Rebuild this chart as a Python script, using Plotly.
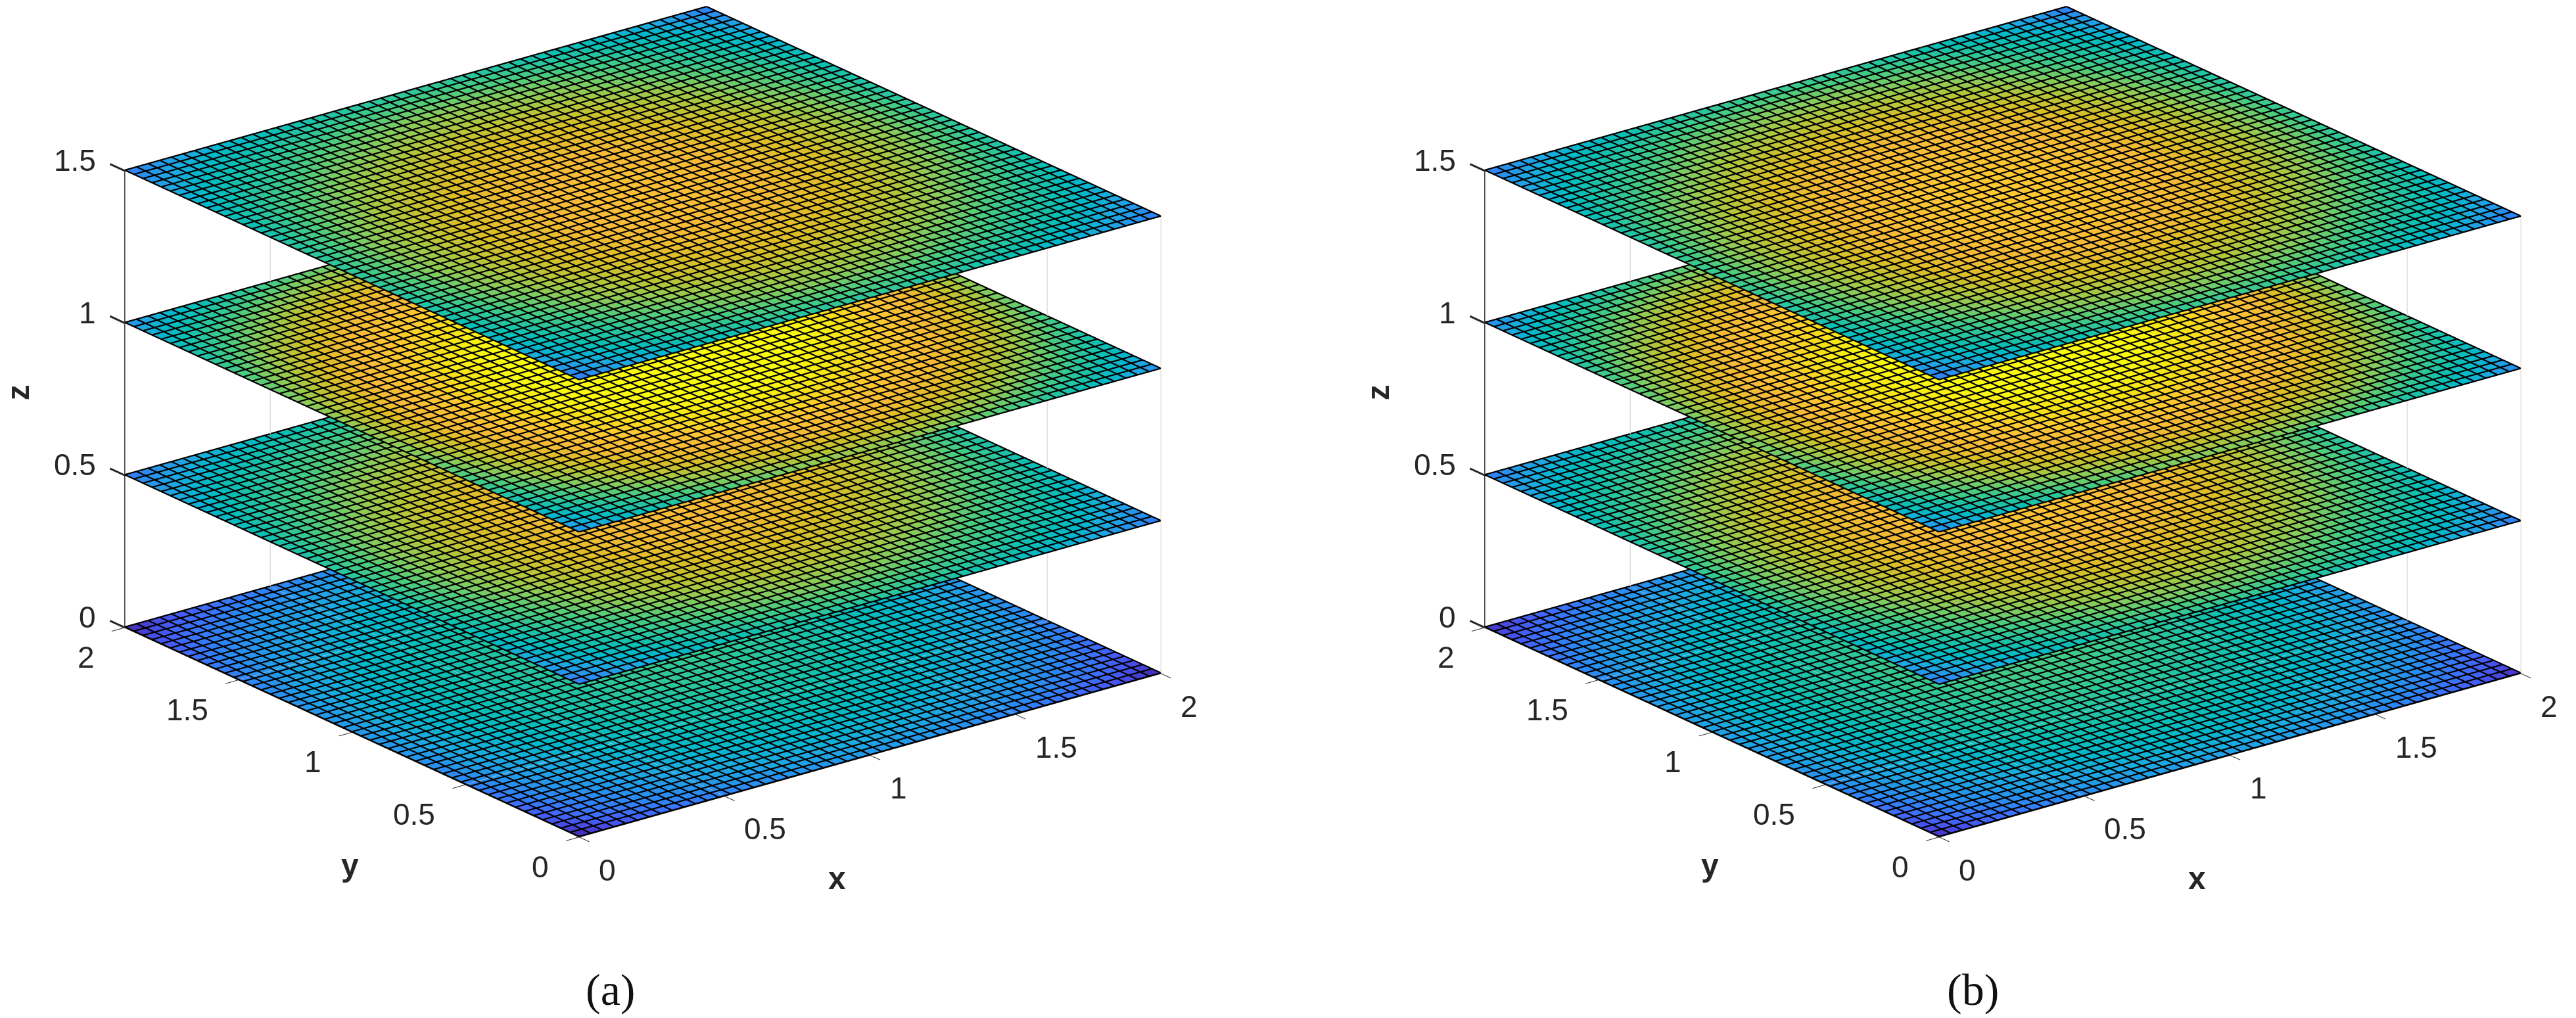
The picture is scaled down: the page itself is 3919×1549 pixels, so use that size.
import plotly.graph_objects as go

# ---- data ----
grid_x = [round(i * 0.04, 2) for i in range(51)]
grid_y = [round(i * 0.04, 2) for i in range(51)]
levels = [0.0, 0.5, 1.0, 1.5]
ticks_xy = [0, 0.5, 1, 1.5, 2]
ticks_z = [0, 0.5, 1, 1.5]
tick_text_xy = ["0", "0.5", "1", "1.5", "2"]
tick_text_z = ["0", "0.5", "1", "1.5"]

# colour value along a sheet edge, corner to edge middle (mirrored about the middle)
a_z00 = [.02,.05,.08,.10,.12,.13,.15,.16,.18,.19,.20,.21,.22,.23,.24,.25,.26,.26,.27,.28,.28,.28,.29,.29,.29,.29]
a_z05 = [.19,.23,.26,.28,.31,.33,.35,.36,.38,.40,.41,.43,.44,.45,.46,.47,.48,.49,.50,.50,.51,.51,.52,.52,.52,.52]
a_z10 = [.26,.31,.34,.37,.40,.43,.45,.47,.49,.51,.53,.55,.56,.58,.59,.60,.61,.62,.63,.64,.65,.65,.65,.66,.66,.66]
a_z15 = [.20,.24,.27,.29,.32,.34,.36,.37,.39,.41,.42,.44,.45,.46,.47,.48,.49,.50,.51,.51,.52,.52,.53,.53,.53,.53]
b_z00 = [.03,.07,.09,.11,.13,.15,.16,.18,.19,.21,.22,.23,.24,.25,.26,.27,.28,.28,.29,.30,.30,.30,.31,.31,.31,.31]
b_z05 = [.20,.24,.27,.30,.32,.34,.36,.38,.40,.41,.43,.44,.46,.47,.48,.49,.50,.51,.52,.52,.53,.53,.54,.54,.54,.54]
b_z10 = [.24,.29,.32,.35,.38,.41,.43,.45,.47,.49,.51,.53,.54,.56,.57,.58,.59,.60,.61,.62,.63,.63,.63,.64,.64,.64]
b_z15 = [.20,.24,.27,.30,.32,.34,.37,.38,.40,.42,.43,.45,.46,.48,.49,.50,.51,.52,.52,.53,.54,.54,.55,.55,.55,.55]

parula = [
    [0.00, "#3e2698"], [0.06, "#4636c6"], [0.12, "#4754f0"], [0.18, "#3d70fd"],
    [0.24, "#2e85f6"], [0.30, "#2499ea"], [0.36, "#1cabe0"], [0.42, "#03b8ca"],
    [0.48, "#0cbfb4"], [0.54, "#2bc69d"], [0.60, "#4acc7f"], [0.66, "#82cc5e"],
    [0.72, "#b4c63a"], [0.78, "#dcbe27"], [0.84, "#f7ba37"], [0.90, "#fec832"],
    [0.95, "#f6e018"], [1.00, "#f9fa0e"],
]

INK = "#262626"
GRID = "#dedede"
TICK_FONT = dict(family="Liberation Sans", size=46, color=INK)
TITLE_FONT = dict(family="Liberation Sans", size=48, color=INK)
CAP_FONT = dict(family="Liberation Serif", size=68, color="#111111")


def add_sheet(fig, scene, level, edge):
    full = edge + edge[-2::-1]
    n = len(grid_x)
    vx, vy, vz, tri_i, tri_j, tri_k, cell = [], [], [], [], [], [], []
    for row, yv in enumerate(grid_y):
        for col, xv in enumerate(grid_x):
            vx.append(xv); vy.append(yv); vz.append(level)
    for row in range(n - 1):
        for col in range(n - 1):
            p = row * n + col
            tri_i += [p, p]; tri_j += [p + 1, p + n + 1]; tri_k += [p + n + 1, p + n]
            val = (full[row] + full[col] + full[row + 1] + full[col + 1]) / 2 - edge[0]
            cell += [val, val]
    fig.add_trace(go.Mesh3d(
        x=vx, y=vy, z=vz, i=tri_i, j=tri_j, k=tri_k,
        intensity=cell, intensitymode="cell", colorscale=parula, cmin=0, cmax=1,
        showscale=False, hoverinfo="skip", scene=scene, flatshading=True,
        lighting=dict(ambient=1, diffuse=0, specular=0, roughness=1, fresnel=0),
    ))
    xs, ys, zs = [], [], []
    lift = level + 0.002
    for v in grid_x:
        xs += [v, v, None]; ys += [grid_y[0], grid_y[-1], None]; zs += [lift, lift, None]
    for v in grid_y:
        xs += [grid_x[0], grid_x[-1], None]; ys += [v, v, None]; zs += [lift, lift, None]
    fig.add_trace(go.Scatter3d(x=xs, y=ys, z=zs, mode="lines",
                               line=dict(color="#000000", width=4.5),
                               hoverinfo="skip", showlegend=False, scene=scene))


def axis(vals, text, rng, ticks="outside"):
    return dict(range=rng, tickmode="array", tickvals=vals, ticktext=text,
                showticklabels=False, ticks=ticks, ticklen=25, tickwidth=3,
                tickcolor=INK, showgrid=True, gridcolor=GRID, gridwidth=3,
                showline=True, linecolor=INK, linewidth=3, zeroline=False,
                showbackground=False, showspikes=False, title=dict(text=""))


def scene_annotations():
    notes = []
    for v, t in zip(ticks_xy, tick_text_xy):
        notes.append(dict(x=v, y=0, z=0, text=t, showarrow=False, xanchor="left", yanchor="middle",
                          xshift=28, yshift=-50, font=TICK_FONT))
        notes.append(dict(x=0, y=v, z=0, text=t, showarrow=False, xanchor="right", yanchor="middle",
                          xshift=-44, yshift=-45, font=TICK_FONT))
    for v, t in zip(ticks_z, tick_text_z):
        notes.append(dict(x=0, y=2, z=v, text=t, showarrow=False, xanchor="right", yanchor="middle",
                          xshift=-42, yshift=16, font=TICK_FONT))
        notes.append(dict(x=0, y=2, z=v, text=" ", showarrow=True, arrowhead=0, arrowwidth=3,
                          arrowcolor=INK, ax=-24, ay=-11, standoff=0, startstandoff=0,
                          font=dict(size=1)))
    bold = dict(TITLE_FONT)
    notes.append(dict(x=1, y=0, z=0, text="<b>x</b>", showarrow=False, xshift=-50, yshift=-187, font=bold))
    notes.append(dict(x=0, y=1, z=0, text="<b>y</b>", showarrow=False, xshift=-3, yshift=-202, font=bold))
    notes.append(dict(x=0, y=2, z=0.75, text="<b>z</b>", showarrow=False, xshift=-162, yshift=10,
                      textangle=-90, font=bold))
    return notes


D = 3.0
CZ = -0.195


def scene_layout(dom_x):
    return dict(
        domain=dict(x=dom_x, y=[0, 1]),
        xaxis=axis(ticks_xy, tick_text_xy, [0, 2]),
        yaxis=axis(ticks_xy, tick_text_xy, [0, 2]),
        zaxis=axis(ticks_z, tick_text_z, [0, 1.503], ticks=""),
        aspectmode="manual", aspectratio=dict(x=1.45, y=1.45, z=0.964),
        annotations=scene_annotations(),
        camera=dict(
            projection=dict(type="orthographic"),
            up=dict(x=0, y=0, z=1),
            center=dict(x=0, y=0, z=CZ),
            eye=dict(x=-0.574 * D, y=-0.735 * D, z=CZ + 0.36 * D),
        ),
    )


fig = go.Figure()
for level, edge in zip(levels, [a_z00, a_z05, a_z10, a_z15]):
    add_sheet(fig, "scene", level, edge)
for level, edge in zip(levels, [b_z00, b_z05, b_z10, b_z15]):
    add_sheet(fig, "scene2", level, edge)
fig.update_layout(
    width=3919, height=1549, margin=dict(l=0, r=0, t=0, b=0),
    paper_bgcolor="white", showlegend=False,
    scene=scene_layout([0, 0.495]),
    scene2=scene_layout([0.5509, 1]),
)
fig.add_annotation(text="(a)", x=920 / 3919, y=1 - 1498 / 1549, xref="paper", yref="paper",
                   xanchor="center", yanchor="middle", showarrow=False, font=CAP_FONT)
fig.add_annotation(text="(b)", x=2993 / 3919, y=1 - 1498 / 1549, xref="paper", yref="paper",
                   xanchor="center", yanchor="middle", showarrow=False, font=CAP_FONT)
fig.write_html("out.html")
